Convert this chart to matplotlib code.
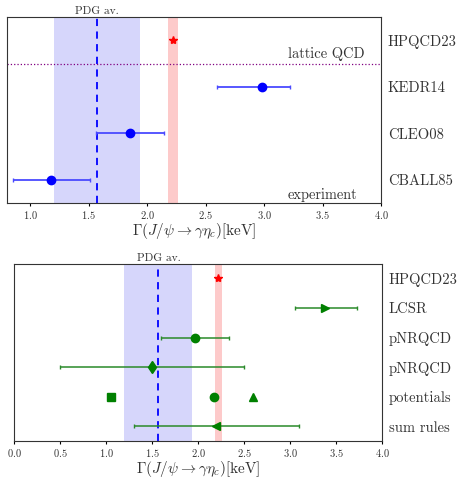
import numpy as np
import matplotlib
matplotlib.use("Agg")
import matplotlib.pyplot as plt

plt.rcParams['font.family'] = 'serif'
plt.rcParams['font.serif'] = ['cmr10']
plt.rcParams['mathtext.fontset'] = 'cm'
plt.rcParams['axes.formatter.use_mathtext'] = True

# averages
pdg_val, pdg_err = 1.57, 0.37
hpqcd_val, hpqcd_err = 2.22, 0.04

# top panel: experiments
exp_labels = ['CBALL85', 'CLEO08', 'KEDR14']
exp_val = [1.18, 1.85, 2.98]
exp_lo = [0.85, 1.56, 2.60]
exp_hi = [1.51, 2.14, 3.22]

# bottom panel: theory
th_labels = ['sum rules', 'potentials', 'pNRQCD', 'pNRQCD', 'LCSR', 'HPQCD23']
th_val = [2.20, None, 1.50, 1.97, 3.38]
th_lo = [1.30, None, 0.50, 1.60, 3.05]
th_hi = [3.10, None, 2.50, 2.34, 3.73]
th_mark = ['<', None, 'd', 'o', '>']
pot_val = [1.05, 2.17, 2.60]
pot_mark = ['s', 'o', '^']

xlab = r'$\Gamma(J/\psi \to \gamma\eta_c)[\mathrm{keV}]$'

fig = plt.figure(figsize=(4.58, 4.8), dpi=100)
ax1 = fig.add_axes([0.0153, 0.577, 0.8166, 0.3875])
ax2 = fig.add_axes([0.0306, 0.0810, 0.8035, 0.370])


def bands(ax):
    ax.axvspan(pdg_val - pdg_err, pdg_val + pdg_err, color='#d6d6fb', lw=0, zorder=0)
    ax.axvspan(hpqcd_val - hpqcd_err, hpqcd_val + hpqcd_err, color='#fdcaca', lw=0, zorder=0)
    ax.axvline(pdg_val, color='blue', ls=(0, (4, 3)), lw=1.3, zorder=1)
    ax.text(pdg_val, 1.005, 'PDG av.', transform=ax.get_xaxis_transform(),
            ha='center', va='bottom', fontsize=8.2, color='#333333')


def style(ax, labels, pad):
    ax.set_yticks(range(len(labels)))
    ax.set_yticklabels(labels, fontsize=10.5, color='#333333')
    ax.yaxis.tick_right()
    ax.tick_params(axis='y', length=0, pad=5)
    ax.tick_params(axis='x', labelsize=7.5, length=2.5, pad=2, labelcolor='#333333')
    ax.set_xlabel(xlab, fontsize=11, labelpad=pad, color='#333333')
    for s in ax.spines.values():
        s.set_color('#333333')


# top
bands(ax1)
n = len(exp_labels)
for i in range(n):
    ax1.errorbar(exp_val[i], i, xerr=[[exp_val[i] - exp_lo[i]], [exp_hi[i] - exp_val[i]]],
                 fmt='o', color='blue', ecolor='#4a4aff', ms=6, elinewidth=1.3, capsize=1.5, zorder=3)
ax1.plot(hpqcd_val, n, marker='*', color='red', ms=6, zorder=3)
ax1.axhline(n - 0.5, color='purple', ls=':', lw=0.9)
ax1.text(3.2, n - 0.5 + 0.05, 'lattice QCD', ha='left', va='bottom', fontsize=10.4, color='#333333')
ax1.text(3.2, -0.47, 'experiment', ha='left', va='bottom', fontsize=10.4, color='#333333')
ax1.set_xlim(0.8, 4.0)
ax1.set_ylim(-0.5, n + 0.5)
style(ax1, exp_labels + ['HPQCD23'], 0)

# bottom
bands(ax2)
for i in range(len(th_val)):
    if th_val[i] is None:
        for v, m in zip(pot_val, pot_mark):
            ax2.plot(v, i, marker=m, color='green', ms=6, ls='none', zorder=3)
        continue
    ax2.errorbar(th_val[i], i, xerr=[[th_val[i] - th_lo[i]], [th_hi[i] - th_val[i]]],
                 fmt=th_mark[i], color='green', ecolor='#2a8a2a', ms=6, elinewidth=1.1,
                 capsize=1.5, zorder=3)
ax2.plot(hpqcd_val, 5, marker='*', color='red', ms=6, zorder=3)
ax2.set_xlim(0.0, 4.0)
ax2.set_ylim(-0.5, 5.5)
style(ax2, th_labels, 0)

fig.savefig('out.png', dpi=100)
